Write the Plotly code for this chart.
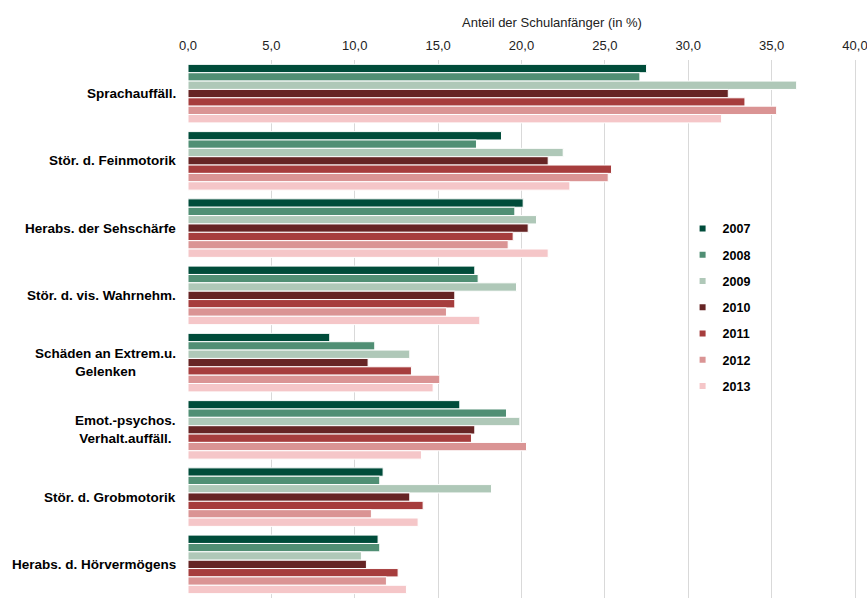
import plotly.graph_objects as go

categories = [
    "Sprachauffäll.",
    "Stör. d. Feinmotorik",
    "Herabs. der Sehschärfe",
    "Stör. d. vis. Wahrnehm.",
    "Schäden an Extrem.u.<br>Gelenken",
    "Emot.-psychos.<br>Verhalt.auffäll.",
    "Stör. d. Grobmotorik",
    "Herabs. d. Hörvermögens",
]

years = ["2007", "2008", "2009", "2010", "2011", "2012", "2013"]

v2007 = [27.5, 18.8, 20.1, 17.2, 8.5, 16.3, 11.7, 11.4]
v2008 = [27.1, 17.3, 19.6, 17.4, 11.2, 19.1, 11.5, 11.5]
v2009 = [36.5, 22.5, 20.9, 19.7, 13.3, 19.9, 18.2, 10.4]
v2010 = [32.4, 21.6, 20.4, 16.0, 10.8, 17.2, 13.3, 10.7]
v2011 = [33.4, 25.4, 19.5, 16.0, 13.4, 17.0, 14.1, 12.6]
v2012 = [35.3, 25.2, 19.2, 15.5, 15.1, 20.3, 11.0, 11.9]
v2013 = [32.0, 22.9, 21.6, 17.5, 14.7, 14.0, 13.8, 13.1]

tick_values = [0, 5, 10, 15, 20, 25, 30, 35, 40]

series = [v2007, v2008, v2009, v2010, v2011, v2012, v2013]
colors = ["#004C3A", "#508F74", "#AFC8B8", "#662424", "#A63D3D", "#DA9494", "#F5C6C8"]

FONT = "Liberation Sans, Arial, sans-serif"

fig = go.Figure()

for year, vals, col in zip(years, series, colors):
    fig.add_trace(go.Bar(
        x=vals, y=categories, orientation="h", name=year,
        marker=dict(color=col, line=dict(color="white", width=1)),
        showlegend=False,
    ))
    # small square legend entries
    fig.add_trace(go.Scatter(
        x=[None], y=[None], mode="markers", name=year, legendgroup=year,
        marker=dict(symbol="square", size=6, color=col),
    ))

# category labels, centred line by line
for cat in categories:
    fig.add_annotation(
        x=0, xref="paper", y=cat, yref="y", text=cat, showarrow=False,
        xanchor="right", align="center", xshift=-10,
        font=dict(family=FONT, size=13.5, color="#000000", weight="bold"),
    )

# axis title above the tick labels
fig.add_annotation(
    x=0.541, xref="paper", y=1.0706, yref="paper",
    text="Anteil der Schulanfänger (in %)", showarrow=False,
    xanchor="center", yanchor="middle",
    font=dict(family=FONT, size=13, color="#222222"),
)

fig.update_layout(
    width=867, height=598,
    margin=dict(l=188, r=7, t=60, b=0),
    paper_bgcolor="white", plot_bgcolor="white",
    barmode="group", bargap=0.13, bargroupgap=0.0,
    separators=",.",
    font=dict(family=FONT, size=12, color="#222222"),
    legend=dict(
        x=0.736, y=0.714, xanchor="left", yanchor="top",
        traceorder="grouped", tracegroupgap=7, itemwidth=30,
        font=dict(size=12.5, color="#000000", weight="bold"),
        bgcolor="rgba(0,0,0,0)",
    ),
    xaxis=dict(
        side="top", range=[0, 40.3], tickmode="array",
        tickvals=tick_values, tickformat=".1f",
        showgrid=True, gridcolor="#D9D9D9", gridwidth=1,
        zeroline=False, showline=False, ticks="", ticklabelstandoff=6,
        ticklabeloverflow="allow",
        tickfont=dict(size=13, color="#222222"),
    ),
    yaxis=dict(
        autorange="reversed", showticklabels=False, showgrid=False,
        zeroline=False, showline=False, ticks="",
    ),
)

fig.write_html("out.html")
